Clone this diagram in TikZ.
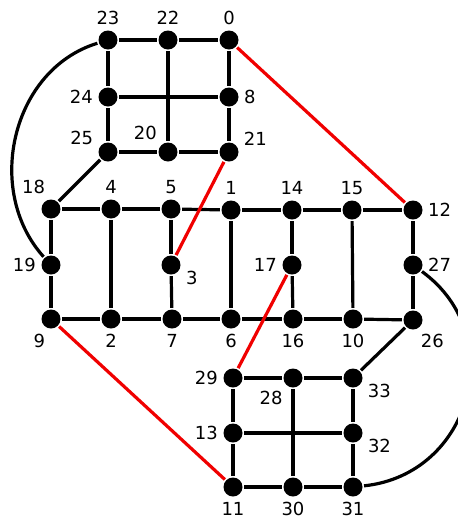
\documentclass[tikz,border=0pt]{standalone}
\usepackage{fontspec}
\setmainfont{DejaVu Sans}
\usetikzlibrary{arrows.meta, positioning}
\definecolor{cred}{HTML}{F00000}
\tikzset{
  every picture/.style={line width=3.2pt},
  vtx/.style={circle, fill=black, draw=none, minimum size=19pt, inner sep=0pt},
  lbl/.style={font=\fontsize{18}{20}\selectfont, inner sep=2.5pt},
  edge/.style={draw=black, line width=3.2pt},
  cut/.style={draw=cred, line width=3.2pt},
}

\begin{document}
\begin{tikzpicture}[x=1pt, y=-1pt]
  \useasboundingbox (0,0) rectangle (458,523);
  % vertices
  \foreach \n/\x/\y/\p in {23/108/40/above, 22/168/40/above, 0/229/40/above,
    24/108/97/left, 8/229/97/right, 25/108/152/165, 20/168/152/130, 21/229/152/15,
    18/51/209/100, 4/111/209/above, 5/171/209/above, 1/231/210/above,
    14/292/210/above, 15/352/210/above, 12/413/210/right,
    19/51/265/left, 3/171/265/-10, 17/292/265/left, 27/413/265/right,
    9/51/319/-100, 2/111/319/below, 7/172/319/below, 6/231/319/below,
    16/293/319/below, 10/353/319/below, 26/413/320/-70,
    29/233/378/left, 28/293/378/-125, 33/353/378/-12,
    13/233/433/left, 32/353/433/-10,
    11/233/487/below, 30/293/487/below, 31/353/487/below}
    \node[vtx, label={[lbl]\p:\n}] (v\n) at (\x,\y) {};
  % grid edges
  \foreach \a/\b in {23/22, 22/0, 24/8, 25/20, 20/21, 23/24, 24/25, 22/20, 0/8, 8/21,
    25/18, 18/4, 4/5, 5/1, 1/14, 14/15, 15/12, 18/19, 19/9, 4/2, 5/3, 3/7, 1/6,
    14/17, 17/16, 15/10, 12/27, 27/26, 9/2, 2/7, 7/6, 6/16, 16/10, 10/26,
    26/33, 29/28, 28/33, 13/32, 11/30, 30/31, 29/13, 13/11, 28/30, 33/32, 32/31}
    \draw[edge] (v\a) -- (v\b);
  % cut edges
  \foreach \a/\b in {0/12, 21/3, 17/29, 9/11}
    \draw[cut] (v\a) -- (v\b);
  \draw[edge] (v23) to[out=197, in=132, looseness=1.04] (v19);
  \draw[edge] (v27) to[out=-36, in=6, looseness=1.25] (v31);
\end{tikzpicture}
\end{document}
